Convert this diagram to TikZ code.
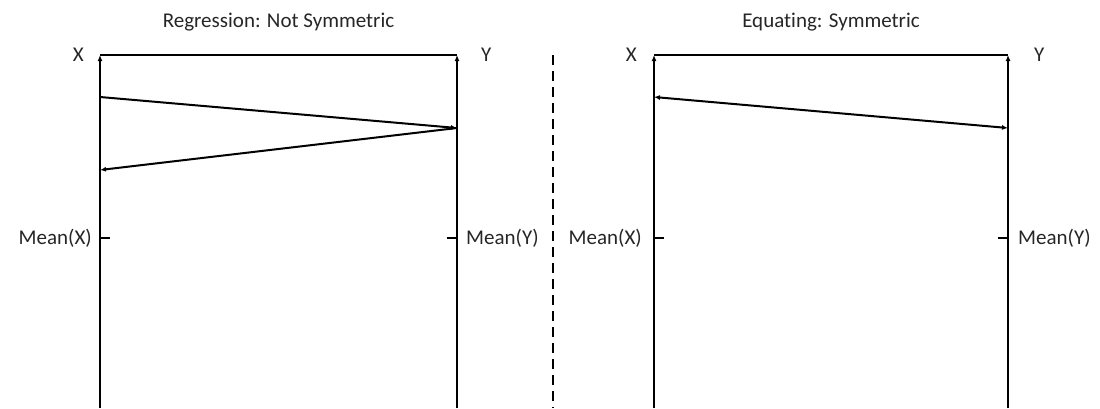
\documentclass[tikz,border=0pt]{standalone}
\usepackage{fontspec}
\setmainfont[Ligatures=CommonOff]{Carlito}
\usetikzlibrary{arrows.meta,positioning}
\tikzset{
  axisline/.style={line width=2.2pt},
  uptip/.style={-{Latex[length=6pt,width=5pt]}},
  slopeline/.style={line width=2pt},
  axislab/.style={font=\fontsize{21}{25}\selectfont,inner sep=0pt,text=black!85},
  titlelab/.style={font=\fontsize{21}{25}\selectfont,inner sep=0pt,text=black!85},
  splitline/.style={line width=2.6pt,dash pattern=on 10pt off 6pt}
}
% tick mark at the mean, #1 = axis point, #2 = offset
\newcommand{\meantick}[2]{\draw[axisline] (#1) -- ++(#2,0);}

\begin{document}
\begin{tikzpicture}[x=1pt,y=-1pt]
\useasboundingbox (0,0) rectangle (1100,408);
% regression panel
\coordinate (rxb) at (100,408); \coordinate (rxt) at (100,55);
\coordinate (ryb) at (457,408); \coordinate (ryt) at (457,55);
\draw[axisline,uptip] (rxb) -- (rxt);
\draw[axisline,uptip] (ryb) -- (ryt);
\draw[axisline] (rxt) -- (ryt);
\path (rxt) -- (ryt) node[midway,above=24pt,titlelab] (rtitle) {Regression: Not Symmetric};
\node[axislab,left=16pt of rxt] (rxlab) {X};
\node[axislab,right=24pt of ryt] (rylab) {Y};
\coordinate (rxm) at (100,238); \coordinate (rym) at (457,238);
\meantick{rxm}{10}\meantick{rym}{-10}
\node[axislab,left=8pt of rxm] (rxmean) {Mean(X)};
\node[axislab,right=9pt of rym] (rymean) {Mean(Y)};
\coordinate (rx1) at (100,97); \coordinate (ry1) at (457,128);
\coordinate (rx2) at (100,170);
\draw[slopeline,uptip] (rx1) -- (ry1);
\draw[slopeline,uptip] (ry1) -- (rx2);
% divider
\coordinate (dtop) at (553,55); \coordinate (dbot) at (553,408);
\draw[splitline] (dtop) -- (dbot);
% equating panel
\coordinate (exb) at (654,408); \coordinate (ext) at (654,55);
\coordinate (eyb) at (1008,408); \coordinate (eyt) at (1008,55);
\draw[axisline,uptip] (exb) -- (ext);
\draw[axisline,uptip] (eyb) -- (eyt);
\draw[axisline] (ext) -- (eyt);
\path (ext) -- (eyt) node[midway,above=24pt,titlelab] (etitle) {Equating: Symmetric};
\node[axislab,left=17pt of ext] (exlab) {X};
\node[axislab,right=26pt of eyt] (eylab) {Y};
\coordinate (exm) at (654,238); \coordinate (eym) at (1008,238);
\meantick{exm}{10}\meantick{eym}{-10}
\node[axislab,left=12pt of exm] (exmean) {Mean(X)};
\node[axislab,right=10pt of eym] (eymean) {Mean(Y)};
\coordinate (ex1) at (654,97); \coordinate (ey1) at (1008,128);
\draw[slopeline,{Latex[length=6pt,width=5pt]}-{Latex[length=6pt,width=5pt]}] (ex1) -- (ey1);
\end{tikzpicture}
\end{document}
